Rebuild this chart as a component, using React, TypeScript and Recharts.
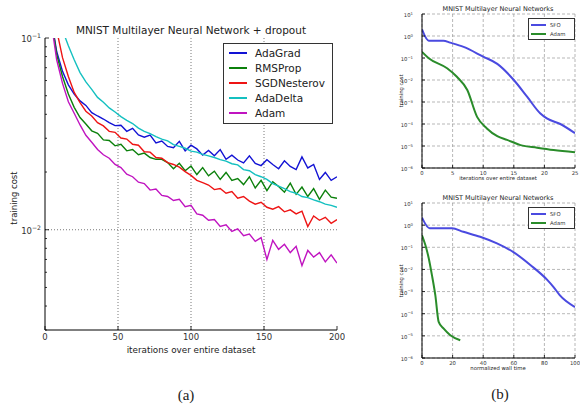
import React from "react";
import { LineChart, Line, XAxis, YAxis, ReferenceLine, CartesianGrid, Legend } from "recharts";

const FONT = "'DejaVu Sans', 'Liberation Sans', sans-serif";

// ---- (a) MNIST multilayer net + dropout, sampled every 4 iterations ----
const iterations = [
  0, 4, 8, 12, 16, 20, 24, 28, 32, 36,
  40, 44, 48, 52, 56, 60, 64, 68, 72, 76,
  80, 84, 88, 92, 96, 100, 104, 108, 112, 116,
  120, 124, 128, 132, 136, 140, 144, 148, 152, 156,
  160, 164, 168, 172, 176, 180, 184, 188, 192, 196,
  200,
];
const adaGrad = [
  0.3, 0.13, 0.085, 0.067, 0.057, 0.051, 0.047, 0.0445, 0.0408, 0.0392,
  0.0378, 0.0362, 0.0349, 0.0351, 0.0326, 0.0338, 0.0312, 0.0304, 0.0312, 0.0284,
  0.029, 0.0272, 0.0268, 0.0289, 0.0258, 0.0276, 0.0264, 0.0245, 0.0259, 0.0243,
  0.0262, 0.0233, 0.0245, 0.0231, 0.0223, 0.0243, 0.0222, 0.0216, 0.0232, 0.0219,
  0.0208, 0.0229, 0.0214, 0.0206, 0.024, 0.021, 0.0219, 0.0183, 0.0199, 0.0181,
  0.0189,
];
const rmsProp = [
  0.3, 0.13, 0.082, 0.063, 0.051, 0.0435, 0.0385, 0.0356, 0.0328, 0.0318,
  0.0294, 0.0292, 0.0274, 0.0279, 0.0258, 0.0262, 0.0246, 0.0251, 0.0238, 0.0233,
  0.0233, 0.0224, 0.0208, 0.0222, 0.0203, 0.0215, 0.0194, 0.0211, 0.0191, 0.0202,
  0.0183, 0.0199, 0.0181, 0.0185, 0.0172, 0.0189, 0.0165, 0.0181, 0.016, 0.0178,
  0.0168, 0.0157, 0.0175, 0.0153, 0.0167, 0.0149, 0.0164, 0.0144, 0.0161, 0.0148,
  0.0146,
];
const sgdNesterov = [
  0.35, 0.17, 0.11, 0.079, 0.063, 0.052, 0.046, 0.0415, 0.0392, 0.0362,
  0.0348, 0.0326, 0.0322, 0.0301, 0.0297, 0.0279, 0.0276, 0.0255, 0.0254, 0.0238,
  0.0236, 0.0224, 0.0219, 0.0212, 0.0201, 0.0192, 0.0181, 0.0176, 0.0171, 0.0162,
  0.0164, 0.0155, 0.0158, 0.0146, 0.0149, 0.0141, 0.0136, 0.0139, 0.0131, 0.0128,
  0.0132, 0.0124, 0.0127, 0.0121, 0.0125, 0.0104, 0.0118, 0.0112, 0.0116, 0.0108,
  0.0113,
];
const adaDelta = [
  0.4, 0.22, 0.15, 0.11, 0.091, 0.077, 0.066, 0.059, 0.054, 0.049,
  0.0462, 0.0432, 0.0411, 0.0389, 0.0372, 0.0358, 0.0339, 0.0326, 0.0317, 0.0306,
  0.0297, 0.0291, 0.0278, 0.0272, 0.0266, 0.0257, 0.0254, 0.0247, 0.0243, 0.0238,
  0.0232, 0.0228, 0.0221, 0.0218, 0.0206, 0.0203, 0.0194, 0.0189, 0.0183, 0.0174,
  0.0169, 0.0164, 0.0158, 0.0155, 0.0149, 0.0147, 0.0143, 0.014, 0.0136, 0.0134,
  0.0131,
];
const adam = [
  0.3, 0.125, 0.077, 0.058, 0.0465, 0.0405, 0.0352, 0.0311, 0.0286, 0.0262,
  0.0246, 0.0236, 0.0219, 0.0211, 0.0195, 0.0189, 0.0177, 0.0174, 0.0161, 0.0163,
  0.0151, 0.0149, 0.0142, 0.0144, 0.0132, 0.0134, 0.0121, 0.0119, 0.0112, 0.0113,
  0.0104, 0.0106, 0.0098, 0.0101, 0.0093, 0.0095, 0.0087, 0.0091, 0.007, 0.0088,
  0.0079, 0.0084, 0.0076, 0.0082, 0.0065, 0.0078, 0.0072, 0.0076, 0.0068, 0.0074,
  0.0067,
];

const iterTicks = [0, 50, 100, 150, 200];
const costTicks = [
  0.003, 0.004, 0.005, 0.006, 0.007, 0.008, 0.009,
  0.01, 0.02, 0.03, 0.04, 0.05, 0.06, 0.07, 0.08, 0.09, 0.1,
];

// ---- (b) SFO vs Adam ----
const sfoEpochX = [0, 1.1, 3.5, 4.6, 6.8, 10, 12.3, 15, 17.2, 19.3, 20.4, 22.6, 25];
const sfoEpochCost = [2.0, 0.61, 0.61, 0.5, 0.32, 0.115, 0.054, 0.01, 0.0017, 3.1e-4, 1.8e-4, 1.0e-4, 3.8e-5];
const adamEpochX = [0, 1.1, 4.1, 5.7, 7.4, 9.0, 10.6, 12.3, 13.9, 16.1, 18.8, 21.5, 25];
const adamEpochCost = [0.19, 0.098, 0.034, 0.014, 0.0035, 2.1e-4, 6.3e-5, 2.8e-5, 1.9e-5, 1.1e-5, 8.4e-6, 6.6e-6, 5.2e-6];

const sfoWallX = [0, 5, 19.6, 27, 38, 49, 60, 71, 82, 86, 90, 100];
const sfoWallCost = [2.2, 0.72, 0.72, 0.5, 0.3, 0.15, 0.059, 0.0155, 0.0033, 0.0016, 6.9e-4, 2.0e-4];
const adamWallX = [0, 2.2, 4.4, 6.5, 8.7, 10.9, 14.2, 18.5, 25];
const adamWallCost = [0.35, 0.126, 0.032, 0.0055, 6.9e-4, 4.3e-5, 2.1e-5, 1.07e-5, 6.3e-6];

const decadeTicks = [1e-6, 1e-5, 1e-4, 1e-3, 1e-2, 1e-1, 1, 10];
const epochTicks = [0, 5, 10, 15, 20, 25];
const wallTicks = [0, 20, 40, 60, 80, 100];

const series = [
  { key: "adaGrad", name: "AdaGrad", color: "#1212d4", values: adaGrad },
  { key: "rmsProp", name: "RMSProp", color: "#0b800b", values: rmsProp },
  { key: "sgdNesterov", name: "SGDNesterov", color: "#ee1414", values: sgdNesterov },
  { key: "adaDelta", name: "AdaDelta", color: "#14c0c0", values: adaDelta },
  { key: "adam", name: "Adam", color: "#c014c0", values: adam },
];

const dropoutRows = iterations.map((it, i) => {
  const row: Record<string, number> = { it };
  series.forEach((s) => (row[s.key] = s.values[i]));
  return row;
});

const pts = (xs: number[], ys: number[]) => xs.map((x, i) => ({ x, y: ys[i] }));

const SFO_COLOR = "#4a4ae0";
const ADAM_COLOR = "#2a8c2a";
const sfoSeries = [
  { name: "SFO", color: SFO_COLOR },
  { name: "Adam", color: ADAM_COLOR },
];

// ---- ticks (matplotlib style: pointing inward) ----
const isDecade = (v: number) => Math.abs(Math.log10(v) - Math.round(Math.log10(v))) < 1e-6;

function Pow10({ x, y, v, size }: { x: number; y: number; v: number; size: number }) {
  const e = Math.round(Math.log10(v));
  return (
    <text x={x} y={y + 1} fontSize={size} fontFamily={FONT} fill="#333" textAnchor="end" dominantBaseline="central">
      10
      <tspan dy={-size * 0.45} fontSize={size * 0.72}>
        {e < 0 ? "\u2212" + -e : String(e)}
      </tspan>
    </text>
  );
}

type Side = "left" | "right" | "top" | "bottom";
function makeTick(side: Side, gap: number, o: { major: number; minor: number; size: number; log?: boolean; label?: boolean }) {
  return (props: any) => {
    const x: number = props.x;
    const y: number = props.y;
    const v: number = props.payload.value;
    const major = !o.log || isDecade(v);
    const len = major ? o.major : o.minor;
    let line: React.ReactNode = null;
    let label: React.ReactNode = null;
    if (side === "left") {
      const ax = x + gap;
      line = <line x1={ax} x2={ax + len} y1={y} y2={y} />;
      if (o.label && major) label = <Pow10 x={x} y={y} v={v} size={o.size} />;
    } else if (side === "right") {
      const ax = x - gap;
      line = <line x1={ax} x2={ax - len} y1={y} y2={y} />;
    } else if (side === "bottom") {
      const ay = y - gap;
      line = <line x1={x} x2={x} y1={ay} y2={ay - len} />;
      if (o.label)
        label = (
          <text x={x} y={y} fontSize={o.size} fontFamily={FONT} fill="#333" textAnchor="middle" dominantBaseline="central">
            {v}
          </text>
        );
    } else {
      const ay = y + gap;
      line = <line x1={x} x2={x} y1={ay} y2={ay + len} />;
    }
    return (
      <g>
        <g stroke="#000" strokeWidth={0.8}>{line}</g>
        {label}
      </g>
    );
  };
}

const tickA = {
  bottom: makeTick("bottom", 7, { major: 4, minor: 2, size: 8.5, label: true }),
  top: makeTick("top", 0, { major: 4, minor: 2, size: 8.5 }),
  left: makeTick("left", 4, { major: 4, minor: 2, size: 8.5, log: true, label: true }),
  right: makeTick("right", 0, { major: 4, minor: 2, size: 8.5, log: true }),
};
const tickB = {
  bottom: makeTick("bottom", 4.5, { major: 3, minor: 2, size: 5.3, label: true }),
  top: makeTick("top", 0, { major: 3, minor: 2, size: 5.3 }),
  left: makeTick("left", 9, { major: 3, minor: 2, size: 5.3, log: true, label: true }),
  right: makeTick("right", 0, { major: 3, minor: 2, size: 5.3, log: true }),
};

// keep legend rows in the order the series were declared
const ordered = (payload: any[], order: { name: string }[]) =>
  [...(payload || [])].sort(
    (a, b) => order.findIndex((s) => s.name === a.value) - order.findIndex((s) => s.name === b.value)
  );

function BigLegend(props: any) {
  const items = ordered(props.payload, series);
  return (
    <div style={{ width: 110, height: 81, boxSizing: "border-box", border: "1px solid #333", background: "#fff", paddingTop: 1 }}>
      {items.map((it: any) => (
        <div key={it.value} style={{ height: 15, display: "flex", alignItems: "center" }}>
          <span style={{ display: "inline-block", marginLeft: 5, width: 18, height: 2, background: series.find((s) => s.name === it.value)?.color }} />
          <span style={{ marginLeft: 8, fontSize: 10.5, fontFamily: FONT, color: "#222", whiteSpace: "nowrap" }}>{it.value}</span>
        </div>
      ))}
    </div>
  );
}

function SmallLegend(props: any) {
  const items = ordered(props.payload, sfoSeries);
  return (
    <div style={{ width: 47, height: 22, boxSizing: "border-box", border: "1px solid #333", background: "#fff", paddingTop: 1 }}>
      {items.map((it: any) => (
        <div key={it.value} style={{ height: 9, display: "flex", alignItems: "center" }}>
          <span style={{ display: "inline-block", marginLeft: 2, width: 15, height: 2, background: sfoSeries.find((s) => s.name === it.value)?.color }} />
          <span style={{ marginLeft: 4, fontSize: 5.3, fontFamily: FONT, color: "#333", whiteSpace: "nowrap" }}>{it.value}</span>
        </div>
      ))}
    </div>
  );
}

function Txt({ x, y, size, children, rotate, serif }: { x: number; y: number; size: number; children: React.ReactNode; rotate?: boolean; serif?: boolean }) {
  return (
    <div
      style={{
        position: "absolute",
        left: x,
        top: y,
        transform: `translate(-50%, -50%)${rotate ? " rotate(-90deg)" : ""}`,
        fontSize: size,
        fontFamily: serif ? "'Liberation Serif', serif" : FONT,
        color: "#222",
        whiteSpace: "nowrap",
        lineHeight: 1,
      }}
    >
      {children}
    </div>
  );
}

function SfoPanel({ top, sfo, adamPts, xTicks, xMax, plotTop, legendTop }: any) {
  return (
    <div style={{ position: "absolute", left: 380, top }}>
      <LineChart width={200} height={190} margin={{ top: plotTop, right: 5, bottom: 0, left: 0 }}>
        <CartesianGrid stroke="#999" strokeDasharray="3 2" strokeWidth={0.7} />
        <XAxis dataKey="x" type="number" domain={[0, xMax]} ticks={xTicks} interval={0} height={22} tickSize={0} tickMargin={4.5} tickLine={false} axisLine={{ stroke: "#000" }} tick={tickB.bottom} allowDataOverflow />
        <XAxis xAxisId="t" orientation="top" type="number" domain={[0, xMax]} ticks={xTicks} interval={0} height={0} tickSize={0} tickMargin={0} tickLine={false} axisLine={{ stroke: "#000" }} tick={tickB.top} allowDataOverflow />
        <YAxis type="number" scale="log" domain={[1e-6, 10]} ticks={decadeTicks} interval={0} width={42} tickSize={0} tickMargin={9} tickLine={false} axisLine={{ stroke: "#000" }} tick={tickB.left} allowDataOverflow />
        <YAxis yAxisId="r" orientation="right" type="number" scale="log" domain={[1e-6, 10]} ticks={decadeTicks} interval={0} width={0} tickSize={0} tickMargin={0} tickLine={false} axisLine={{ stroke: "#000" }} tick={tickB.right} allowDataOverflow />
        <Legend layout="horizontal" align="center" verticalAlign="middle" wrapperStyle={{ left: 148, top: legendTop }} content={SmallLegend} />
        <Line data={sfo} dataKey="y" name="SFO" type="monotone" stroke={SFO_COLOR} strokeWidth={2} dot={false} isAnimationActive={false} />
        <Line data={adamPts} dataKey="y" name="Adam" type="monotone" stroke={ADAM_COLOR} strokeWidth={2} dot={false} isAnimationActive={false} />
      </LineChart>
    </div>
  );
}

export default function App() {
  return (
    <div style={{ position: "absolute", left: 0, top: 0, width: 580, height: 404, background: "#fff", overflow: "hidden" }}>
      <div style={{ position: "absolute", left: 0, top: 0 }}>
        <LineChart width={345} height={360} data={dropoutRows} margin={{ top: 38, right: 8, bottom: 0, left: 0 }}>
          <XAxis dataKey="it" type="number" domain={[0, 200]} ticks={iterTicks} interval={0} height={30} tickSize={0} tickMargin={7} tickLine={false} axisLine={{ stroke: "#000" }} tick={tickA.bottom} allowDataOverflow />
          <XAxis xAxisId="t" orientation="top" type="number" domain={[0, 200]} ticks={iterTicks} interval={0} height={0} tickSize={0} tickMargin={0} tickLine={false} axisLine={{ stroke: "#000" }} tick={tickA.top} allowDataOverflow />
          <YAxis type="number" scale="log" domain={[0.003, 0.1]} ticks={costTicks} interval={0} width={45} tickSize={0} tickMargin={4} tickLine={false} axisLine={{ stroke: "#000" }} tick={tickA.left} allowDataOverflow />
          <YAxis yAxisId="r" orientation="right" type="number" scale="log" domain={[0.003, 0.1]} ticks={costTicks} interval={0} width={0} tickSize={0} tickMargin={0} tickLine={false} axisLine={{ stroke: "#000" }} tick={tickA.right} allowDataOverflow />
          {[50, 100, 150].map((v) => (
            <ReferenceLine key={v} x={v} stroke="#555" strokeDasharray="1 2" strokeWidth={0.8} />
          ))}
          <ReferenceLine y={0.01} stroke="#555" strokeDasharray="1 2" strokeWidth={0.8} />
          <Legend layout="horizontal" align="center" verticalAlign="middle" wrapperStyle={{ left: 223, top: 43 }} content={BigLegend} />
          {series.map((s) => (
            <Line key={s.key} dataKey={s.key} name={s.name} type="linear" stroke={s.color} strokeWidth={1.4} dot={false} isAnimationActive={false} />
          ))}
        </LineChart>
      </div>

      <SfoPanel top={0} sfo={pts(sfoEpochX, sfoEpochCost)} adamPts={pts(adamEpochX, adamEpochCost)} xTicks={epochTicks} xMax={25} plotTop={14} legendTop={18} />
      <SfoPanel top={190} sfo={pts(sfoWallX, sfoWallCost)} adamPts={pts(adamWallX, adamWallCost)} xTicks={wallTicks} xMax={100} plotTop={13} legendTop={17} />

      <Txt x={191} y={30} size={10.5}>MNIST Multilayer Neural Network + dropout</Txt>
      <Txt x={14} y={198} size={8.5} rotate>training cost</Txt>
      <Txt x={191} y={350} size={8.8}>iterations over entire dataset</Txt>

      <Txt x={498} y={9} size={6.5}>MNIST Multilayer Neural Networks</Txt>
      <Txt x={402} y={91} size={5.3} rotate>training cost</Txt>
      <Txt x={498} y={179} size={5.3}>iterations over entire dataset</Txt>

      <Txt x={498} y={198} size={6.5}>MNIST Multilayer Neural Networks</Txt>
      <Txt x={402} y={281} size={5.3} rotate>training cost</Txt>
      <Txt x={498} y={369} size={5.3}>normalized wall time</Txt>

      <Txt x={186} y={395} size={15} serif>(a)</Txt>
      <Txt x={500} y={394} size={15} serif>(b)</Txt>
    </div>
  );
}
